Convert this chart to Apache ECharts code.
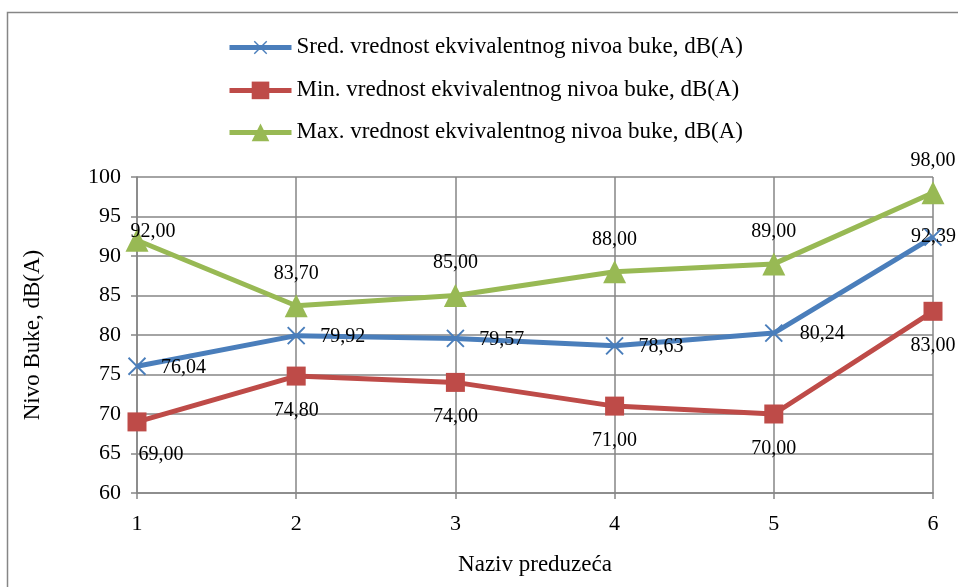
<!DOCTYPE html>
<html>
<head>
<meta charset="utf-8">
<script src="https://cdn.jsdelivr.net/npm/echarts@6/dist/echarts.min.js"></script>
<style>
  html, body { margin: 0; padding: 0; background: #fff; }
  #chart { width: 958px; height: 587px; }
</style>
</head>
<body>
<div id="chart"></div>
<script>
// podaci
var categories = ['1', '2', '3', '4', '5', '6'];
var sredValues = [76.04, 79.92, 79.57, 78.63, 80.24, 92.39];
var minValues = [69.00, 74.80, 74.00, 71.00, 70.00, 83.00];
var maxValues = [92.00, 83.70, 85.00, 88.00, 89.00, 98.00];
var seriesNames = [
  'Sred. vrednost ekvivalentnog nivoa buke, dB(A)',
  'Min. vrednost ekvivalentnog nivoa buke, dB(A)',
  'Max. vrednost ekvivalentnog nivoa buke, dB(A)'
];

var FONT = '"Liberation Serif", "Times New Roman", serif';
var fmt = function (v) { return v.toFixed(2).replace('.', ','); };

// pozicije labela (kao u Excelu)
var sredLabelPos = [
  { position: 'right', offset: [2, 1] },
  { position: 'right', offset: [2, 1] },
  { position: 'right', offset: [2, 1] },
  { position: 'right', offset: [2, 1] },
  { position: 'right', offset: [4, 1] },
  { position: 'right', offset: [-44, 0] }
];
var minLabelPos = [
  { position: 'bottom', offset: [24, 8] },
  { position: 'bottom', offset: [0, 10] },
  { position: 'bottom', offset: [0, 10] },
  { position: 'bottom', offset: [0, 10] },
  { position: 'bottom', offset: [0, 10] },
  { position: 'bottom', offset: [0, 10] }
];
var maxLabelPos = [
  { position: 'top', offset: [16, 18] },
  { position: 'top', offset: [0, -6] },
  { position: 'top', offset: [0, -6] },
  { position: 'top', offset: [0, -6] },
  { position: 'top', offset: [0, -6] },
  { position: 'top', offset: [0, -6] }
];

function withLabels(values, pos) {
  return values.map(function (v, i) {
    return { value: v, label: pos[i] };
  });
}

var crossPath = 'path://M4.6,0H5.4V4.6H10V5.4H5.4V10H4.6V5.4H0V4.6H4.6Z';

var myChart = echarts.init(document.getElementById('chart'));
var labelStyle = {
  show: true,
  color: '#000',
  fontFamily: FONT,
  fontSize: 20,
  formatter: function (p) { return fmt(p.value); }
};

var option = {
  backgroundColor: '#fff',
  animation: false,
  textStyle: { fontFamily: FONT },
  graphic: [{
    type: 'rect',
    left: 5, top: 10,
    shape: { width: 1000, height: 620 },
    style: { fill: 'none', stroke: '#868686', lineWidth: 1.5 },
    silent: true
  }],
  legend: {
    data: seriesNames,
    orient: 'vertical',
    left: 222,
    top: 30,
    itemGap: 19,
    itemWidth: 62,
    itemHeight: 22,
    lineStyle: { width: 5 },
    textStyle: { fontFamily: FONT, fontSize: 23, color: '#000' }
  },
  grid: {
    left: 137,
    right: 25,
    top: 177,
    bottom: 94,
    containLabel: false
  },
  xAxis: {
    type: 'category',
    data: categories,
    boundaryGap: false,
    name: 'Naziv preduzeća',
    nameLocation: 'middle',
    nameGap: 60,
    nameTextStyle: { fontFamily: FONT, fontSize: 23, color: '#000' },
    axisLine: { lineStyle: { color: '#868686', width: 1.5 } },
    axisTick: { show: true, length: 6, lineStyle: { color: '#868686', width: 1.5 } },
    axisLabel: { fontFamily: FONT, fontSize: 22, color: '#000', margin: 20 },
    splitLine: { show: true, lineStyle: { color: '#868686', width: 1.5 } }
  },
  yAxis: {
    type: 'value',
    min: 60,
    max: 100,
    interval: 5,
    name: 'Nivo Buke, dB(A)',
    nameLocation: 'middle',
    nameGap: 93,
    nameRotate: 90,
    nameTextStyle: { fontFamily: FONT, fontSize: 23, color: '#000' },
    axisLine: { show: true, lineStyle: { color: '#868686', width: 1.5 } },
    axisTick: { show: true, length: 6, lineStyle: { color: '#868686', width: 1.5 } },
    axisLabel: { fontFamily: FONT, fontSize: 22, color: '#000', margin: 16 },
    splitLine: { show: true, lineStyle: { color: '#868686', width: 1.5 } }
  },
  series: [
    {
      name: seriesNames[0],
      type: 'line',
      data: withLabels(sredValues, sredLabelPos),
      symbol: crossPath,
      symbolSize: 24,
      symbolRotate: 45,
      lineStyle: { color: '#4a7ebb', width: 5 },
      itemStyle: { color: '#4a7ebb' },
      label: labelStyle,
      z: 3
    },
    {
      name: seriesNames[1],
      type: 'line',
      data: withLabels(minValues, minLabelPos),
      symbol: 'rect',
      symbolSize: 19,
      lineStyle: { color: '#be4b48', width: 5 },
      itemStyle: { color: '#be4b48' },
      label: labelStyle,
      z: 3
    },
    {
      name: seriesNames[2],
      type: 'line',
      data: withLabels(maxValues, maxLabelPos),
      symbol: 'triangle',
      symbolSize: 23,
      lineStyle: { color: '#98b954', width: 5 },
      itemStyle: { color: '#98b954' },
      label: labelStyle,
      z: 3
    }
  ]
};
myChart.setOption(option);
window.addEventListener('resize', function () {
  myChart.resize();
});
</script>
</body>
</html>
